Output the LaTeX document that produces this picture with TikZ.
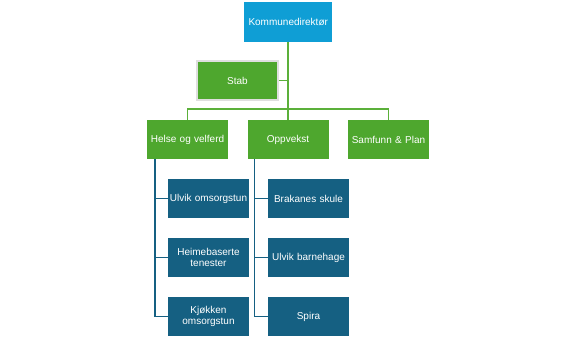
\documentclass[tikz,border=0pt]{standalone}
\usepackage{fontspec}
\setmainfont{Liberation Sans}
\usetikzlibrary{calc}
\definecolor{kblue}{HTML}{0F9ED5}
\definecolor{kgreen}{HTML}{4EA72E}
\definecolor{kdark}{HTML}{156082}
\definecolor{kline}{HTML}{5BB03A}
\tikzset{
  box/.style={minimum width=81pt,minimum height=39pt,inner sep=1pt,text=white,
    align=center,text width=79pt,font=\fontsize{10}{11.5}\selectfont},
  topbox/.style={box,fill=kblue,minimum width=88pt,minimum height=40pt},
  gbox/.style={box,fill=kgreen},
  dbox/.style={box,fill=kdark},
  gline/.style={draw=kline,line width=1.6pt},
  dline/.style={draw=kdark,line width=1.6pt}
}
\begin{document}
\begin{tikzpicture}[x=1pt,y=1pt]
\useasboundingbox (0,0) rectangle (576,339);
\node[topbox] (K) at (288,317) {Kommunedirektør};
\node[gbox,draw=gray!25,line width=1.5pt] (St) at (237.5,258.5) {Stab};
\node[gbox] (H) at (187.5,199.5) {Helse og velferd};
\node[gbox] (O) at (288,199.5) {Oppvekst};
\node[gbox] (S) at (388.5,199.5) {Samfunn \& Plan};
\node[dbox] (H1) at (208.5,140.5) {Ulvik omsorgstun};
\node[dbox] (H2) at (208.5,81.5) {Heimebaserte\\tenester};
\node[dbox] (H3) at (208.5,22.5) {Kjøkken\\omsorgstun};
\node[dbox] (O1) at (308.5,140.5) {Brakanes skule};
\node[dbox] (O2) at (308.5,81.5) {Ulvik barnehage};
\node[dbox] (O3) at (308.5,22.5) {Spira};
\coordinate (bar) at (0,230);
\draw[gline] (K.south) -- (O.north);
\draw[gline] (H.north) -- (H.north |- bar) -- (S.north |- bar) -- (S.north);
\draw[gline] (St.east) -- (St.east -| K.south);
\coordinate (hl) at ($(H.south west)+(8,0)$);
\coordinate (ol) at ($(O.south west)+(7,0)$);
\draw[dline] (hl) |- (H3.west);
\draw[dline] (hl |- H1.west) -- (H1.west);
\draw[dline] (hl |- H2.west) -- (H2.west);
\draw[dline] (ol) |- (O3.west);
\draw[dline] (ol |- O1.west) -- (O1.west);
\draw[dline] (ol |- O2.west) -- (O2.west);
\end{tikzpicture}
\end{document}
